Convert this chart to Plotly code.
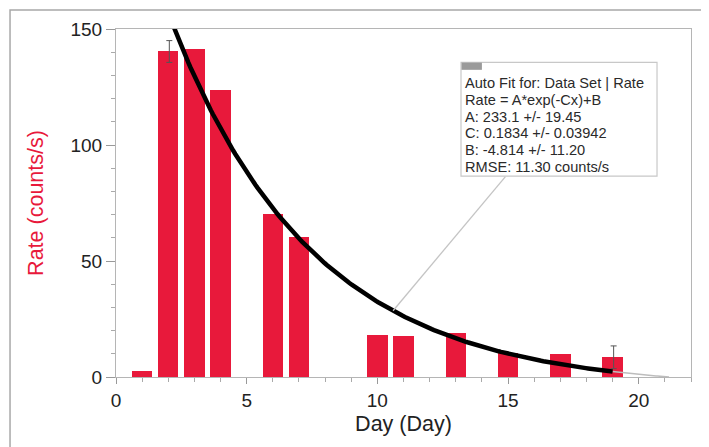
import numpy as np
import plotly.graph_objects as go

# ---- data ----
days = [1, 2, 3, 4, 6, 7, 10, 11, 13, 15, 17, 19]
rates = [2.5, 140.5, 141.2, 123.7, 70.1, 60.2, 18.2, 17.7, 19.1, 10.2, 9.8, 8.5]

err_days = [2, 19]
err_rates = [140.3, 8.5]
err_sizes = [4.7, 4.9]

# fit parameters shown in the chart
A_fit = 233.1
C_fit = 0.1834
B_fit = -4.814
fit_start, fit_end, extrap_end = 2.0, 19.0, 21.16

fit_lines = [
    "Auto Fit for: Data Set | Rate",
    "Rate = A*exp(-Cx)+B",
    "A: 233.1 +/- 19.45",
    "C: 0.1834 +/- 0.03942",
    "B: -4.814 +/- 11.20",
    "RMSE: 11.30 counts/s",
]

x_ticks = [0, 5, 10, 15, 20]
y_ticks = [0, 50, 100, 150]

RED = "#E8193B"
FONT = "Liberation Sans, Arial, Helvetica"

def model(x):
    return A_fit * np.exp(-C_fit * x) + B_fit

xf = np.linspace(fit_start, fit_end, 200)
xe = np.linspace(fit_end, extrap_end, 40)

fig = go.Figure()
fig.add_trace(go.Bar(x=days, y=rates, width=0.78, marker=dict(color=RED, line=dict(width=0)),
                     showlegend=False))
fig.add_trace(go.Scatter(x=xe, y=model(xe), mode="lines",
                         line=dict(color="#bdbdbd", width=1.5), showlegend=False))
fig.add_trace(go.Scatter(x=xf, y=model(xf), mode="lines",
                         line=dict(color="black", width=4.5), showlegend=False))
fig.add_trace(go.Scatter(x=[d + 0.04 for d in err_days], y=err_rates, mode="markers",
                         marker=dict(size=1, color="rgba(0,0,0,0)"),
                         error_y=dict(type="data", array=err_sizes, color="#555",
                                      thickness=1, width=3),
                         showlegend=False))

# leader line from the curve to the fit box
lx = 10.6
fig.add_shape(type="line", xref="x", yref="y", x0=lx, y0=model(lx), x1=14.9, y1=86.4,
              line=dict(color="#c4c4c4", width=1.3))
# fit box
fig.add_shape(type="rect", xref="x", yref="y", x0=13.2, x1=20.7, y0=86.6, y1=135.6,
              line=dict(color="#c8c8c8", width=1.2), fillcolor="white")
fig.add_shape(type="rect", xref="x", yref="y", x0=13.22, x1=14.0, y0=132.4, y1=135.5,
              line=dict(width=0), fillcolor="#9a9a9a")
for i, line in enumerate(fit_lines):
    fig.add_annotation(x=13.28, y=126.6 - 7.2 * i, xref="x", yref="y",
                       xanchor="left", yanchor="middle", text=line, showarrow=False,
                       font=dict(family=FONT, size=14.6, color="#2a2a2a"))

# outer frame
fig.add_shape(type="rect", xref="paper", yref="paper", x0=-0.1843, x1=1.2, y0=-0.5, y1=1.0546,
              line=dict(color="#a8a8a8", width=1.5), layer="below")

fig.update_layout(
    width=701, height=439,
    margin=dict(l=108, r=18, t=21, b=70),
    plot_bgcolor="white", paper_bgcolor="white",
    bargap=0,
    font=dict(family=FONT, color="#222"),
    xaxis=dict(range=[0, 22], tickvals=x_ticks, ticks="outside", ticklen=6, tickcolor="#999",
               minor=dict(dtick=1, ticks="outside", ticklen=4, tickcolor="#aaa"),
               showline=True, linecolor="#b5b5b5", linewidth=1, mirror=True,
               showgrid=False, zeroline=False, tickfont=dict(size=19, color="#222"),
               title=dict(text="Day (Day)", font=dict(size=21.5, color="#222"), standoff=6)),
    yaxis=dict(range=[0, 150], tickvals=y_ticks, ticks="outside", ticklen=9, tickcolor="#999",
               minor=dict(dtick=10, ticks="outside", ticklen=4, tickcolor="#aaa"),
               showline=True, linecolor="#b5b5b5", linewidth=1, mirror=True,
               showgrid=False, zeroline=False, tickfont=dict(size=19, color="#222"),
               title=dict(text="Rate (counts/s)", font=dict(size=21.5, color=RED), standoff=20)),
)

fig.write_html("out.html")
